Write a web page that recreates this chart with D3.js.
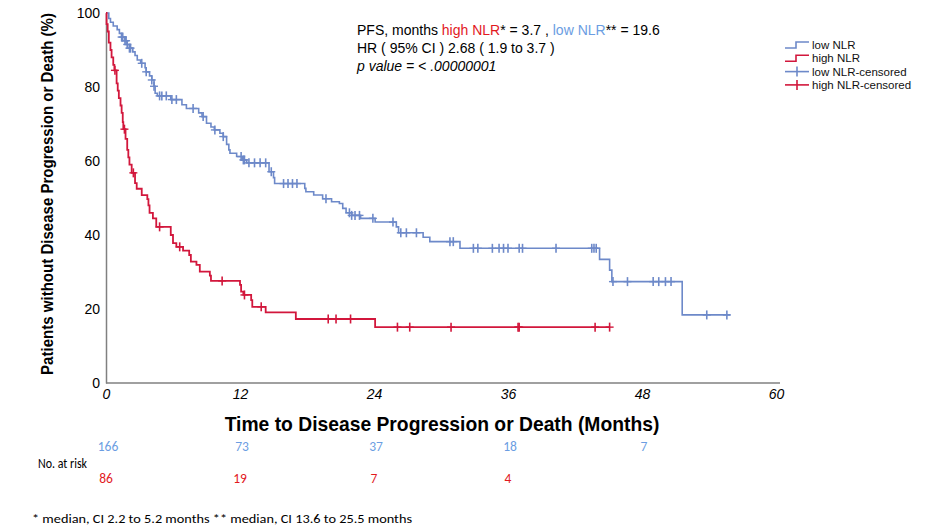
<!DOCTYPE html>
<html>
<head>
<meta charset="utf-8">
<script src="https://cdn.jsdelivr.net/npm/d3@7"></script>
<style>
  body { margin: 0; background: #fff; }
  svg { display: block; font-family: "Liberation Sans", Arial, sans-serif; }
</style>
</head>
<body>
<div id="chart"></div>
<script>
// Kaplan-Meier steps (months, % without progression)
const lowTimes = [0, 0.25, 0.4, 0.65, 1.0, 1.2, 1.4, 1.7, 1.9, 2.1, 2.4, 2.6, 2.8, 3.1, 3.5, 3.6, 3.9, 4.1, 4.3, 4.4, 4.6, 5.8,
  6.8, 7.2, 8.3, 8.6, 9.0, 9.4, 9.7, 10.2, 10.5, 10.8, 11.0, 11.1, 11.7, 12.2, 12.6, 14.6, 15.0, 15.1, 17.8, 17.9, 18.6,
  19.4, 20.2, 20.9, 21.2, 21.5, 22.0, 22.8, 24.1, 26.0, 26.2, 28.4, 29.0, 31.7, 44.2, 45.1, 45.3, 51.6];
const lowSurv = [100, 98.5, 97.5, 96.5, 95.5, 94.5, 93.5, 92.5, 91.5, 90.5, 89.5, 88.5, 87.3, 86.4, 85.2, 84.1, 83, 81.9, 80.2, 78.3, 77.6, 76.6,
  75.2, 74.2, 73, 72, 70.2, 69.2, 68.4, 67.5, 66.6, 64.5, 63, 62.1, 61.2, 60.3, 59.5, 57.1, 55.5, 53.9, 52.6, 51.7, 50.8,
  49.8, 49.0, 48.5, 47.2, 46.0, 45.3, 44.5, 43.5, 42.2, 40.6, 39.4, 38.2, 36.4, 33.4, 30.5, 27.4, 18.4];
const lowEnd = 55.9;
const lowCensored = [1.4, 1.5, 1.7, 1.8, 1.9, 2.1, 2.2, 3.2, 3.6, 4.1, 4.3, 4.8, 5.0, 5.4, 5.9, 6.3, 7.8, 8.7, 9.75, 10.5,
  12.1, 12.3, 12.4, 12.8, 13.3, 13.8, 14.3, 14.8, 15.9, 16.3, 16.7, 17.1, 19.7, 21.8, 22.0, 22.3, 22.7, 23.9, 25.7,
  26.4, 26.9, 27.8, 30.8, 31.1, 32.9, 33.3, 34.6, 35.2, 35.6, 36.0, 37.0, 37.3, 40.3, 43.5, 43.7, 43.9,
  45.4, 46.7, 49.0, 49.5, 50.1, 50.6, 53.8, 55.6];

const highTimes = [0, 0.05, 0.15, 0.25, 0.4, 0.5, 0.65, 0.75, 0.95, 1.05, 1.15, 1.3, 1.4, 1.5, 1.55, 1.75, 1.9, 2.0, 2.1, 2.3,
  2.6, 2.75, 3.2, 3.7, 3.8, 3.9, 4.2, 4.5, 5.8, 6.0, 6.3, 6.9, 7.45, 7.6, 8.1, 8.4, 9.3, 9.4, 12.0, 12.1, 12.3, 13.0, 13.1,
  14.3, 17.0, 24.1];
const highSurv = [100, 97, 95, 92, 90, 88, 86, 84.5, 81, 79, 77, 75, 73, 70.5, 68.6, 66, 63, 61, 59, 56.8,
  54, 52.5, 50.8, 49.7, 48, 46, 44.5, 42.2, 40.0, 37.8, 36.8, 35.8, 34.6, 32.8, 31.9, 30.1, 29.0, 27.6, 26.5, 24.7, 23.8, 22.4, 20.6,
  19.1, 17.3, 15.1];
const highEnd = 45.1;
const highCensored = [0.8, 1.65, 2.45, 4.8, 6.6, 10.4, 12.4, 13.9, 19.9, 20.6, 21.9, 26.1, 27.2, 30.9, 36.9, 37.0, 43.8, 45.1];

const xTicks = [0, 12, 24, 36, 48, 60];
const yTicks = [0, 20, 40, 60, 80, 100];
const riskTimes = [0, 12, 24, 36, 48];
const riskLow = [166, 73, 37, 18, 7];
const riskHigh = [86, 19, 7, 4];

const legendLabels = ["low NLR", "high NLR", "low NLR-censored", "high NLR-censored"];

const blue = "#6d89c9", red = "#d2173c";
const textBlue = "#6b9de2", textRed = "#e2191e";

const width = 925, height = 531;

const svg = d3.select("#chart").append("svg")
    .attr("width", width)
    .attr("height", height);

const x = d3.scaleLinear().domain([0, 60]).range([106, 776]);
const y = d3.scaleLinear().domain([0, 100]).range([383, 13]);

// axes
svg.append("g")
    .attr("transform", "translate(0,383)")
    .call(d3.axisBottom(x).tickValues(xTicks).tickSize(0).tickPadding(6))
    .call(g => g.select(".domain").attr("stroke", "#808080").attr("stroke-width", 1.5).attr("d", "M106,0H780"))
    .call(g => g.selectAll("text").attr("font-size", "14px").attr("font-style", "italic").attr("fill", "#000"));

svg.append("g")
    .attr("transform", "translate(106,0)")
    .call(d3.axisLeft(y).tickValues(yTicks).tickSize(0).tickPadding(6))
    .call(g => g.select(".domain").attr("stroke", "#808080").attr("stroke-width", 1.5))
    .call(g => g.selectAll("text").attr("font-size", "14px").attr("fill", "#000"));

// condensed bold label: squeeze along the text direction
svg.append("text")
    .attr("transform", "translate(53,194) rotate(-90) scale(0.885,1)")
    .attr("text-anchor", "middle")
    .attr("font-weight", "bold")
    .attr("font-size", "17px")
    .text("Patients without Disease Progression or Death (%)");

svg.append("text")
    .attr("x", 442)
    .attr("y", 431)
    .attr("text-anchor", "middle")
    .attr("font-weight", "bold")
    .attr("font-size", "19.3px")
    .text("Time to Disease Progression or Death (Months)");

// curves
const line = d3.line()
    .x(d => x(d[0]))
    .y(d => y(d[1]))
    .curve(d3.curveStepAfter);

function stepAt(times, surv, t) {
    const i = d3.bisectRight(times, t) - 1;
    return surv[Math.max(i, 0)];
}

function drawCurve(times, surv, end, censored, color, sw) {
    const pts = times.map((t, i) => [t, surv[i]]);
    pts.push([end, surv[surv.length - 1]]);
    svg.append("path")
        .datum(pts)
        .attr("fill", "none")
        .attr("stroke", color)
        .attr("stroke-width", sw)
        .attr("d", line);

    const marks = svg.append("g").selectAll("g")
        .data(censored)
      .enter().append("g")
        .attr("transform", t => "translate(" + x(t) + "," + y(stepAt(times, surv, t)) + ")");
    marks.append("line").attr("x1", 0).attr("x2", 0).attr("y1", -4.5).attr("y2", 4.5)
        .attr("stroke", color).attr("stroke-width", 1.6);
    marks.append("line").attr("x1", -4).attr("x2", 4).attr("y1", 0).attr("y2", 0)
        .attr("stroke", color).attr("stroke-width", 1.4);
}

drawCurve(lowTimes, lowSurv, lowEnd, lowCensored, blue, 1.6);
drawCurve(highTimes, highSurv, highEnd, highCensored, red, 1.8);

// annotation
const note = svg.append("g").attr("font-size", "14px").attr("fill", "#000");
const l1 = note.append("text").attr("x", 357).attr("y", 35);
l1.append("tspan").text("PFS, months ");
l1.append("tspan").attr("fill", textRed).text("high NLR");
l1.append("tspan").text("* = 3.7 , ");
l1.append("tspan").attr("fill", textBlue).text("low NLR");
l1.append("tspan").text("** = 19.6");
note.append("text").attr("x", 357).attr("y", 53).text("HR ( 95% CI ) 2.68 ( 1.9 to 3.7 )");
note.append("text").attr("x", 357).attr("y", 71).attr("font-style", "italic").text("p value = < .00000001");

// legend
const legend = svg.append("g").attr("transform", "translate(785,45)");
const legendColors = [blue, red, blue, red];
legendLabels.forEach((lab, i) => {
    const g = legend.append("g").attr("transform", "translate(0," + (i * 13.3) + ")");
    if (i < 2) {
        g.append("path")
            .attr("d", "M0,3H11V-3H24")
            .attr("fill", "none")
            .attr("stroke", legendColors[i])
            .attr("stroke-width", 1.6);
    } else {
        g.append("line").attr("x1", 0).attr("x2", 24).attr("y1", 0).attr("y2", 0)
            .attr("stroke", legendColors[i]).attr("stroke-width", 1.6);
        g.append("line").attr("x1", 12).attr("x2", 12).attr("y1", -5).attr("y2", 5)
            .attr("stroke", legendColors[i]).attr("stroke-width", 1.6);
    }
    g.append("text")
        .attr("x", 27)
        .attr("y", 4)
        .attr("font-size", "11.5px")
        .attr("fill", "#111")
        .text(lab);
});

// number at risk
const riskFont = "Carlito, Lato, 'Open Sans', sans-serif";
svg.append("g").selectAll("text")
    .data(riskLow)
  .enter().append("text")
    .attr("x", (d, i) => x(riskTimes[i]) + 2)
    .attr("y", 451)
    .attr("text-anchor", "middle")
    .attr("font-family", riskFont)
    .attr("font-size", "13.5px")
    .attr("fill", textBlue)
    .text(d => d);

svg.append("g").selectAll("text")
    .data(riskHigh)
  .enter().append("text")
    .attr("x", (d, i) => x(riskTimes[i]))
    .attr("y", 483)
    .attr("text-anchor", "middle")
    .attr("font-family", riskFont)
    .attr("font-size", "13.5px")
    .attr("fill", textRed)
    .text(d => d);

svg.append("text")
    .attr("x", 38)
    .attr("y", 468)
    .attr("font-family", riskFont)
    .attr("font-size", "15px")
    .attr("fill", "#000")
    .attr("textLength", 49)
    .attr("lengthAdjust", "spacingAndGlyphs")
    .text("No. at risk");

svg.append("text")
    .attr("x", 32)
    .attr("y", 523)
    .attr("font-family", riskFont)
    .attr("font-size", "13px")
    .attr("fill", "#000")
    .attr("textLength", 380)
    .attr("lengthAdjust", "spacingAndGlyphs")
    .text("* median, CI 2.2 to 5.2 months ** median, CI 13.6 to 25.5 months");
</script>
</body>
</html>
